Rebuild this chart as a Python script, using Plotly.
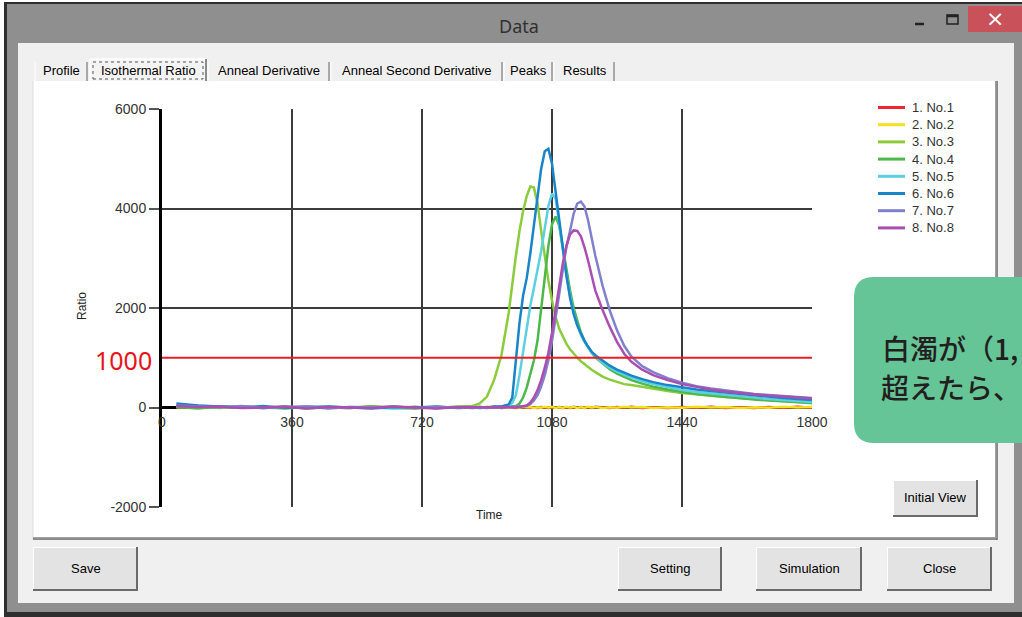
import plotly.graph_objects as go

# ---------------- data ----------------
time_s = [40, 100, 160, 220, 280, 340, 400, 460, 520, 580, 640, 700, 760, 820,
          860, 880, 900, 920, 940, 960, 970, 980, 990, 1000, 1010, 1020, 1030, 1040,
          1050, 1060, 1070, 1080, 1090, 1100, 1110, 1120, 1130, 1140, 1150, 1160,
          1170, 1180, 1190, 1200, 1220, 1240, 1260, 1280, 1300, 1330, 1360, 1400,
          1440, 1480, 1520, 1560, 1600, 1640, 1680, 1720, 1760, 1800]

no1 = [10, 0, 15, -5, 5, -10, 10, 0, -10, 15, -5, 10, -10, 5,
       -10, 10, -5, 15, -10, 5, 0, -10, 10, -5, 15, -10, 5, -10,
       10, 0, -10, 15, -5, 10, -10, 5, -10, 15, -5, 10,
       -10, 5, -10, 15, 0, -10, 10, -5, 15, -10, 5, -10,
       10, -5, 15, -10, 5, -10, 10, -5, 15, -5]
no2 = [5, 10, -5, 5, 15, 0, -10, 10, 5, -5, 15, 0, 10, -10,
       5, -5, 15, 0, 10, -10, 5, 10, -5, 15, 0, 10, -10, 5,
       -5, 15, 0, 10, -10, 5, -5, 15, 0, 10, -10, 5,
       -5, 15, 0, 10, -10, 5, -5, 15, 0, 10, -10, 5,
       -5, 15, 0, 10, -10, 5, -5, 15, 0, 10]
no3 = [30, 10, -10, 20, 0, -20, 10, 0, -10, 20, 0, 10, -10, 20,
       30, 80, 220, 560, 1050, 1900, 2500, 3050, 3550, 3950, 4250, 4440, 4420, 4100,
       3550, 3000, 2550, 2150, 1820, 1580, 1420, 1280, 1170, 1080, 1000, 930,
       870, 810, 760, 710, 620, 560, 510, 470, 450, 410, 370, 330,
       290, 260, 240, 210, 190, 170, 150, 130, 110, 90]
no4 = [10, -20, 20, 0, -10, 20, -20, 10, 0, 20, -10, -20, 10, 0,
       10, -10, 0, 10, 0, 10, 20, 30, 80, 200, 400, 650, 950, 1350,
       1950, 2650, 3250, 3680, 3840, 3650, 3200, 2750, 2350, 2000, 1720, 1500,
       1340, 1210, 1100, 1010, 880, 770, 680, 610, 550, 480, 420, 360,
       310, 270, 240, 210, 180, 160, 140, 120, 100, 90]
no5 = [60, 30, 10, 20, -10, 0, 20, -10, 10, 0, -20, 10, 0, 10,
       0, -10, 10, 0, 20, 40, 90, 250, 650, 1150, 1650, 2050, 2400, 2750,
       3150, 3600, 4050, 4300, 4200, 3700, 3150, 2650, 2250, 1900, 1650, 1460,
       1320, 1200, 1100, 1020, 900, 800, 720, 660, 600, 530, 470, 410,
       350, 310, 280, 250, 220, 190, 170, 150, 130, 110]
no6 = [80, 40, 20, 0, 30, -10, 10, 20, 0, -20, 10, 0, 20, -10,
       0, 10, 0, 20, 20, 60, 200, 900, 1700, 2250, 2600, 3100, 3650, 4250,
       4800, 5150, 5200, 4900, 4350, 3700, 3150, 2650, 2200, 1880, 1650, 1480,
       1340, 1220, 1120, 1050, 940, 840, 760, 700, 640, 570, 510, 450,
       400, 360, 330, 300, 270, 240, 210, 190, 170, 150]
no7 = [40, 20, 0, 30, -10, 10, 20, -20, 10, 0, 20, -10, 10, 0,
       10, 0, -10, 10, 0, 10, 0, 10, 20, 20, 30, 70, 140, 250,
       420, 650, 950, 1330, 1780, 2280, 2780, 3230, 3550, 3900, 4100, 4140,
       4040, 3760, 3400, 3050, 2450, 1950, 1550, 1240, 1020, 830, 710, 590,
       500, 430, 380, 340, 300, 270, 250, 230, 210, 190]
no8 = [30, 10, 20, -10, 0, 20, -20, 10, 0, -10, 20, 0, -20, 10,
       0, 10, -10, 0, 10, 0, 10, 0, 10, 20, 40, 100, 200, 350,
       550, 800, 1100, 1500, 1950, 2450, 2900, 3250, 3480, 3560, 3550, 3440,
       3220, 2950, 2650, 2350, 1960, 1620, 1320, 1080, 920, 760, 650, 550,
       470, 410, 360, 320, 290, 260, 240, 220, 200, 180]

series_values = [no1, no2, no3, no4, no5, no6, no7, no8]
series_names = ["1. No.1", "2. No.2", "3. No.3", "4. No.4",
                "5. No.5", "6. No.6", "7. No.7", "8. No.8"]
series_colors = ["#ee2833", "#f2e21e", "#8ccc3c", "#4cb84a",
                 "#5ccfe0", "#1a84c8", "#8080cc", "#aa4fb2"]

threshold = 1000
x_ticks = [0, 360, 720, 1080, 1440, 1800]
y_ticks = [-2000, 0, 2000, 4000, 6000]
y_ticktext = ["-2000", "0", "2000", "4000", "6000"]
tab_labels = ["Profile", "Isothermal Ratio", "Anneal Derivative",
              "Anneal Second Derivative", "Peaks", "Results"]
window_title = "Data"
callout_lines = ["白濁が（1,", "超えたら、"]

for v in series_values:
    assert len(v) == len(time_s)

# ---------------- layout helpers ----------------
W, H = 1022, 617
L, R, T, B = 162, 812, 109, 507
UI_FONT = "Liberation Sans, Arial, sans-serif"


def px(x):
    return (x - L) / (R - L)


def py(y):
    return (B - y) / (B - T)


shapes = []
annos = []


def rect(x0, y0, x1, y1, fill="rgba(0,0,0,0)", line=None, lw=0, dash=None, layer="below"):
    ln = dict(width=lw, color=line or "rgba(0,0,0,0)")
    if dash:
        ln["dash"] = dash
    shapes.append(dict(type="rect", xref="paper", yref="paper",
                       x0=px(x0), x1=px(x1), y0=py(y1), y1=py(y0),
                       fillcolor=fill, line=ln, layer=layer))


def seg(x0, y0, x1, y1, color, w=1, layer="below"):
    shapes.append(dict(type="line", xref="paper", yref="paper",
                       x0=px(x0), x1=px(x1), y0=py(y0), y1=py(y1),
                       line=dict(color=color, width=w), layer=layer))


def text(x, y, s, size=13, color="#000", family=UI_FONT, xanchor="center",
         yanchor="middle", angle=0, weight=None):
    f = dict(size=size, color=color, family=family)
    if weight:
        f["weight"] = weight
    annos.append(dict(xref="paper", yref="paper", x=px(x), y=py(y), text=s,
                      showarrow=False, xanchor=xanchor, yanchor=yanchor,
                      font=f, textangle=angle))


def button(x0, y0, x1, y1, label):
    rect(x0, y0, x1, y1, "#6a6a6a")
    rect(x0, y0, x1 - 2, y1 - 2, "#ffffff")
    rect(x0 + 1, y0 + 1, x1 - 2, y1 - 2, "#e3e3e3")
    text((x0 + x1) / 2, (y0 + y1) / 2 - 1, label, 13)


# window frame
rect(4, 2, 1030, 620, "#2e2e2e")
rect(7, 4, 1030, 612, "#8f8f8f")
rect(18, 43, 1014, 603, "#f0f0f0")
# title bar
text(519, 26, window_title, 18, "#303030", "Noto Sans")
rect(968, 6, 1030, 32, "#c9525a")
text(995, 18, "×", 22, "#ffffff", "DejaVu Sans")
seg(915, 24, 924, 24, "#222", 2.5)
rect(947, 15, 958, 24, line="#222", lw=1.5)
seg(947, 16, 958, 16, "#222", 2.5)

# tab strip
tab_x = [(36, 87), (90, 206), (209, 329), (332, 502), (505, 552), (555, 614)]
for i, ((a, b), lab) in enumerate(zip(tab_x, tab_labels)):
    if i == 1:
        rect(a, 59, b, 82, "#f4f4f4")
        seg(a, 59, b, 59, "#ffffff", 1.5)
        seg(a, 59, a, 82, "#ffffff", 1.5)
        seg(b, 59, b, 81, "#6a6a6a", 1.5)
        rect(a + 3, 62, b - 3, 79, line="#555", lw=1, dash="dot")
    else:
        seg(a - 1, 62, a - 1, 81, "#ffffff", 1)
        seg(b, 62, b, 81, "#7a7a7a", 1.2)
    text((a + b) / 2, 71, lab, 13)

# tab panel
rect(33, 81, 997, 539, "#ffffff")
seg(33, 81, 33, 539, "#dcdcdc", 1)
seg(995.5, 81, 995.5, 538, "#a0a0a0", 1)
seg(997, 81, 997, 540, "#696969", 1.5)
seg(33, 537.5, 997, 537.5, "#a0a0a0", 1)
seg(33, 539, 997, 539, "#696969", 1.5)

# buttons
button(893, 480, 978, 517, "Initial View")
button(33, 547, 138, 591, "Save")
button(618, 547, 722, 591, "Setting")
button(756, 547, 862, 591, "Simulation")
button(887, 547, 992, 591, "Close")

# green callout (clipped by the page edge)
cx0, cy0, cx1, cy1, rr = 854, 277, 1040, 443, 20
pts = [("M", cx0 + rr, cy0), ("L", cx1, cy0), ("L", cx1, cy1), ("L", cx0 + rr, cy1)]
path = " ".join(f"{c}{px(x):.5f},{py(y):.5f}" for c, x, y in pts)
path += f" Q{px(cx0):.5f},{py(cy1):.5f} {px(cx0):.5f},{py(cy1 - rr):.5f}"
path += f" L{px(cx0):.5f},{py(cy0 + rr):.5f}"
path += f" Q{px(cx0):.5f},{py(cy0):.5f} {px(cx0 + rr):.5f},{py(cy0):.5f} Z"
shapes.append(dict(type="path", xref="paper", yref="paper", path=path,
                   fillcolor="#66c597", line=dict(width=0), layer="below"))
text(880, 348, callout_lines[0], 28, "#231f20", "Noto Sans CJK JP", xanchor="left", weight=500)
text(879, 387, callout_lines[1], 28, "#231f20", "Noto Sans CJK JP", xanchor="left", weight=500)

# axis titles and threshold label
text(82, 306, "Ratio", 12, "#222", angle=-90)
text(489, 515, "Time", 12, "#222")
text(154, 360, f"{threshold}", 25, "#e8141c", "Noto Sans", xanchor="right")

# threshold line
shapes.append(dict(type="line", xref="x", yref="y", x0=x_ticks[0], x1=x_ticks[-1],
                   y0=threshold, y1=threshold, line=dict(color="#ee1c25", width=2),
                   layer="above"))

# manual legend
for i, (nm, col) in enumerate(zip(series_names, series_colors)):
    yy = 107.5 + 17.2 * i
    seg(878, yy, 905, yy, col, 3, layer="above")
    text(910, yy, nm, 13, "#333", xanchor="left")

# ---------------- figure ----------------
fig = go.Figure()
for nm, col, vals in zip(series_names, series_colors, series_values):
    fig.add_trace(go.Scatter(x=time_s, y=vals, mode="lines", name=nm,
                             line=dict(color=col, width=2.5),
                             showlegend=False, hoverinfo="skip"))

tickfont = dict(size=14, color="#333", family=UI_FONT)
fig.update_layout(
    width=W, height=H, autosize=False,
    margin=dict(l=L, r=W - R, t=T, b=H - B, pad=0),
    paper_bgcolor="#ffffff", plot_bgcolor="#ffffff",
    showlegend=False,
    shapes=shapes, annotations=annos,
    xaxis=dict(range=[x_ticks[0], x_ticks[-1]], tickvals=x_ticks,
               showgrid=True, gridcolor="#3c3c3c", gridwidth=1.5,
               zeroline=False, showline=False,
               anchor="free", position=py(407),
               ticks="outside", ticklen=2, tickcolor="rgba(0,0,0,0)",
               tickfont=tickfont, layer="below traces", fixedrange=True),
    yaxis=dict(range=[y_ticks[0], y_ticks[-1]], tickvals=y_ticks,
               ticktext=y_ticktext,
               showgrid=True, gridcolor="#3c3c3c", gridwidth=1.5,
               zeroline=True, zerolinecolor="#000", zerolinewidth=3,
               showline=True, linecolor="#000", linewidth=3,
               ticks="outside", ticklen=10, tickcolor="#555", tickwidth=1.5,
               tickfont=tickfont, layer="below traces", fixedrange=True),
)

fig.write_html("out.html", config={"displayModeBar": False})
